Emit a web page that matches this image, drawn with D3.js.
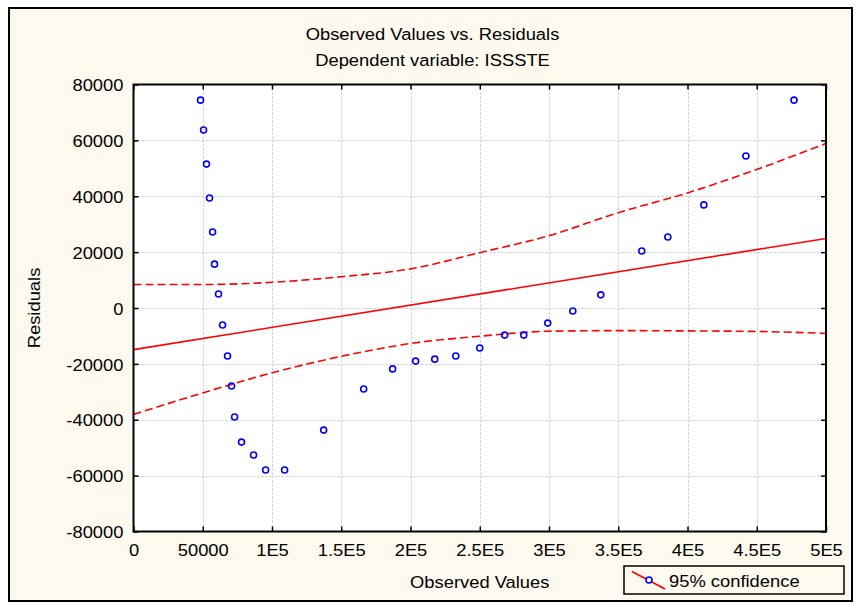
<!DOCTYPE html>
<html>
<head>
<meta charset="utf-8">
<script src="https://cdn.jsdelivr.net/npm/d3@7/dist/d3.min.js"></script>
<style>
  html, body { margin: 0; padding: 0; background: #ffffff; }
  svg { display: block; }
  text { font-family: "Liberation Sans", Arial, sans-serif; fill: #000; }
</style>
</head>
<body>
<svg id="chart" width="856" height="605"></svg>
<script>
// Observed values and their residuals
const observed = [48400, 50600, 52700, 54900, 57100, 58500, 61400, 64300, 67900, 70800,
                  73000, 78000, 86700, 95400, 109100, 137300, 166200, 187100, 203700, 217500,
                  232700, 250000, 268000, 281800, 299100, 317200, 337400, 367000, 385800, 411800,
                  442200, 476900];
const residuals = [74400, 63700, 51500, 39400, 27200, 15700, 5000, -6100, -17200, -27900,
                   -39000, -48000, -52600, -58000, -58000, -43700, -29000, -21800, -19000, -18300,
                   -17200, -14300, -9700, -9700, -5400, -1100, 4700, 20400, 25400, 36900,
                   54400, 74400];

// Fitted line end points
const fitX = [0, 500000];
const fitY = [-14900, 24900];

// 95% confidence band, read at regular observed values
const bandX = [0, 50000, 100000, 150000, 200000, 250000, 300000, 350000, 400000, 450000, 500000];
const bandUpper = [8400, 8400, 9200, 11200, 14000, 19800, 25900, 34100, 41200, 49600, 58900];
const bandLower = [-38100, -30400, -23200, -17300, -12700, -10100, -8300, -8100, -8200, -8400, -9100];

// Axis ticks
const xTicks = [0, 50000, 100000, 150000, 200000, 250000, 300000, 350000, 400000, 450000, 500000];
const xTickLabels = ["0", "50000", "1E5", "1.5E5", "2E5", "2.5E5", "3E5", "3.5E5", "4E5", "4.5E5", "5E5"];
const yTicks = [-80000, -60000, -40000, -20000, 0, 20000, 40000, 60000, 80000];
const yTickLabels = ["-80000", "-60000", "-40000", "-20000", "0", "20000", "40000", "60000", "80000"];

const titleText = "Observed Values vs. Residuals";
const subtitleText = "Dependent variable: ISSSTE";
const xTitle = "Observed Values";
const yTitle = "Residuals";
const legendLabel = "95% confidence";

const FONT = 17;
const STRETCH = 1.08;
const cream = "#fdf9ef";

const svg = d3.select("#chart");
const panel = { x: 9, y: 8, w: 843, h: 593 };
const plot = { left: 133.5, right: 826, top: 84.5, bottom: 531.5 };

const x = d3.scaleLinear().domain([0, 500000]).range([plot.left, plot.right]);
const y = d3.scaleLinear().domain([-80000, 80000]).range([plot.bottom, plot.top]);

// Widened text: glyphs are stretched horizontally around their anchor
function label(parent, tx, ty, str, anchor, rotate) {
  return parent.append("text")
    .attr("transform", `translate(${tx},${ty})${rotate ? ` rotate(${rotate})` : ""} scale(${STRETCH},1)`)
    .attr("text-anchor", anchor)
    .style("font-size", FONT + "px")
    .text(str);
}

// Outer panel
svg.append("rect")
  .attr("x", panel.x).attr("y", panel.y).attr("width", panel.w).attr("height", panel.h)
  .attr("fill", cream).attr("stroke", "#000").attr("stroke-width", 2);

// Plot background
svg.append("rect")
  .attr("x", plot.left).attr("y", plot.top)
  .attr("width", plot.right - plot.left).attr("height", plot.bottom - plot.top)
  .attr("fill", "#ffffff");

// Grid
const grid = svg.append("g")
  .attr("stroke", "#c4c4c4").attr("stroke-width", 1).attr("stroke-dasharray", "2,2");
grid.selectAll("line.gx").data(xTicks.slice(1, -1)).join("line")
  .attr("x1", d => Math.round(x(d)) + 0.5).attr("x2", d => Math.round(x(d)) + 0.5)
  .attr("y1", plot.top).attr("y2", plot.bottom);
grid.selectAll("line.gy").data(yTicks.slice(1, -1)).join("line")
  .attr("y1", d => Math.round(y(d)) + 0.5).attr("y2", d => Math.round(y(d)) + 0.5)
  .attr("x1", plot.left).attr("x2", plot.right);

// Confidence band and fitted line
const curve = d3.line().x(d => x(d[0])).y(d => y(d[1])).curve(d3.curveMonotoneX);
const lines = svg.append("g").attr("fill", "none").attr("stroke", "#ff0000");
lines.append("path")
  .attr("d", curve(bandX.map((v, i) => [v, bandUpper[i]])))
  .attr("stroke-width", 1.6).attr("stroke-dasharray", "8,4");
lines.append("path")
  .attr("d", curve(bandX.map((v, i) => [v, bandLower[i]])))
  .attr("stroke-width", 1.6).attr("stroke-dasharray", "8,4");
lines.append("path")
  .attr("d", d3.line().x(d => x(d[0])).y(d => y(d[1]))(fitX.map((v, i) => [v, fitY[i]])))
  .attr("stroke-width", 1.6);

// Points
svg.append("g").selectAll("circle")
  .data(observed.map((v, i) => [v, residuals[i]]))
  .join("circle")
  .attr("cx", d => x(d[0])).attr("cy", d => y(d[1])).attr("r", 3)
  .attr("fill", "none").attr("stroke", "#0000ff").attr("stroke-width", 1.6);

// Axes (ticks point inward)
function styleAxis(g) {
  g.select(".domain").remove();
  g.selectAll(".tick line").attr("stroke", "#000").attr("stroke-width", 1.5);
}

const xAxis = svg.append("g")
  .attr("transform", `translate(0,${plot.bottom})`)
  .call(d3.axisBottom(x).tickValues(xTicks).tickSizeInner(-5).tickSizeOuter(0).tickPadding(8)
    .tickFormat((d, i) => xTickLabels[i]));
styleAxis(xAxis);
xAxis.selectAll(".tick text").each(function () {
  const t = d3.select(this);
  t.attr("transform", `translate(0,${+t.attr("y")}) scale(${STRETCH},1)`).attr("y", 0)
    .attr("dy", "0.95em").style("font-size", FONT + "px").style("font-family", null);
});

const yAxis = svg.append("g")
  .attr("transform", `translate(${plot.left},0)`)
  .call(d3.axisLeft(y).tickValues(yTicks).tickSizeInner(-5).tickSizeOuter(0).tickPadding(10)
    .tickFormat((d, i) => yTickLabels[i]));
styleAxis(yAxis);
yAxis.selectAll(".tick text").each(function () {
  const t = d3.select(this);
  t.attr("transform", `translate(${+t.attr("x")},0) scale(${STRETCH},1)`).attr("x", 0)
    .attr("dy", "0.36em").style("font-size", FONT + "px").style("font-family", null);
});

const topAxis = svg.append("g")
  .attr("transform", `translate(0,${plot.top})`)
  .call(d3.axisTop(x).tickValues(xTicks).tickSizeInner(-5).tickSizeOuter(0).tickFormat(""));
styleAxis(topAxis);

const rightAxis = svg.append("g")
  .attr("transform", `translate(${plot.right},0)`)
  .call(d3.axisRight(y).tickValues(yTicks).tickSizeInner(-5).tickSizeOuter(0).tickFormat(""));
styleAxis(rightAxis);

// Plot frame
svg.append("rect")
  .attr("x", plot.left).attr("y", plot.top)
  .attr("width", plot.right - plot.left).attr("height", plot.bottom - plot.top)
  .attr("fill", "none").attr("stroke", "#000").attr("stroke-width", 2);

// Titles: main titles centred on the panel, axis titles on the plot
const panelMid = panel.x + panel.w / 2 + 2;
const plotMid = (plot.left + plot.right) / 2;
label(svg, panelMid, 39.5, titleText, "middle");
label(svg, panelMid, 66, subtitleText, "middle");
label(svg, plotMid, 588, xTitle, "middle");
label(svg, 39.5, (plot.top + plot.bottom) / 2, yTitle, "middle", -90);

// Legend
const legend = svg.append("g");
legend.append("rect")
  .attr("x", 624).attr("y", 566).attr("width", 220).attr("height", 28)
  .attr("fill", cream).attr("stroke", "#000").attr("stroke-width", 1.5);
legend.append("line")
  .attr("x1", 632).attr("y1", 571.5).attr("x2", 665).attr("y2", 589)
  .attr("stroke", "#ff0000").attr("stroke-width", 1.6);
legend.append("circle")
  .attr("cx", 649).attr("cy", 580).attr("r", 3)
  .attr("fill", "#ffffff").attr("stroke", "#0000ff").attr("stroke-width", 1.6);
label(legend, 669, 586.5, legendLabel, "start");
</script>
</body>
</html>
